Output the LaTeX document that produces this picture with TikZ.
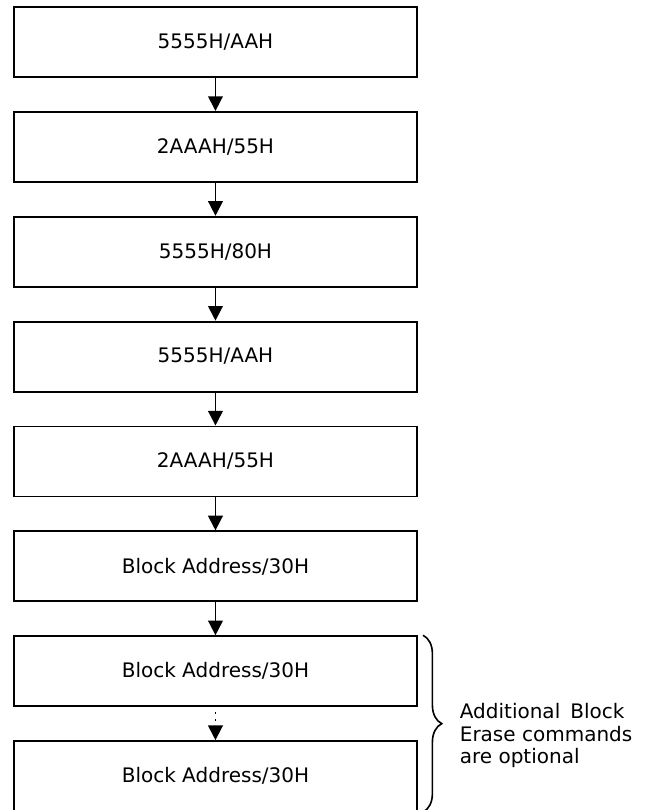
\documentclass[tikz,border=0pt]{standalone}
\usepackage{fontspec}
\setmainfont{DejaVu Sans}
\usetikzlibrary{
        arrows.meta,
        decorations.pathreplacing,
        positioning
    }
\tikzset{>={Triangle[width=11pt,length=11pt]},node distance=24.75pt}
\tikzset{cmd/.style={draw,line width=1.4pt,minimum width=302pt,minimum height=52.5pt,
        inner sep=0pt,font=\fontsize{15}{18}\selectfont}}
\tikzset{note/.style={inner sep=0pt,align=left,font=\fontsize{15}{16.8}\selectfont}}

\begin{document}
\begin{tikzpicture}[line width=1.3pt]
                \useasboundingbox (0,0) rectangle (487.5pt,-607.5pt);
                \node[cmd] (a) at (161.6pt,-31.5pt) {5555H/AAH};
                \node[cmd] (b) [below=of a] {2AAAH/55H};
                \node[cmd] (c) [below=of b] {5555H/80H};
                \node[cmd] (d) [below=of c] {5555H/AAH};
                \node[cmd] (e) [below=of d] {2AAAH/55H};
                \node[cmd] (f) [below=of e] {Block Address/30H};
                \node[cmd] (g) [below=of f] {Block Address/30H};
                \node[cmd] (h) [below=of g] {Block Address/30H};
            \path[->]
                    (a) edge (b)
                    (b) edge (c)
                    (c) edge (d)
                    (d) edge (e)
                    (e) edge (f)
                    (f) edge (g);
            \draw[->,dash pattern=on 1.6pt off 3.6pt,dash phase=1.6pt] (g) -- (h);
    %			optional commands
            \draw[decorate,decoration={brace,amplitude=14pt},line width=1.2pt]
                    ([xshift=4pt]g.north east) -- ([xshift=4pt]h.south east)
                    node[note,midway,right=27pt,yshift=-9pt] (opt)
                    {Additional\hspace{0.5em}Block\\Erase commands\\are optional};
            \end{tikzpicture}
\end{document}
